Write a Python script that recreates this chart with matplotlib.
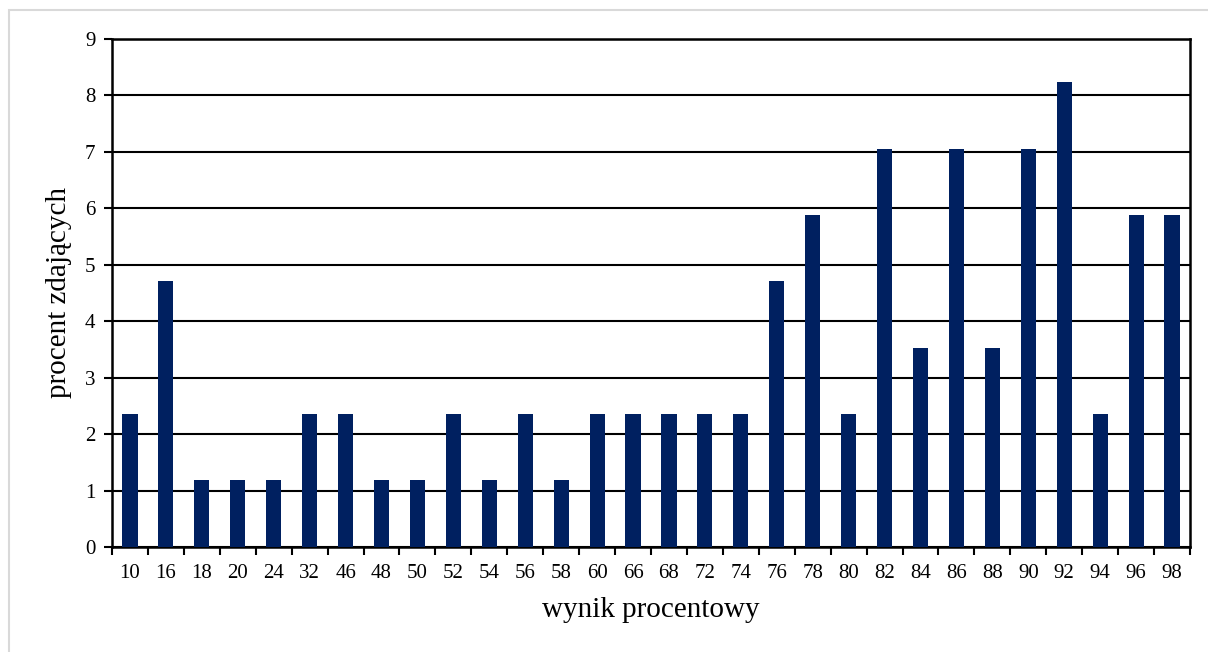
import numpy as np
import matplotlib.pyplot as plt
from matplotlib.patches import Rectangle

scores = ["10", "16", "18", "20", "24", "32", "46", "48", "50", "52",
          "54", "56", "58", "60", "66", "68", "72", "74", "76", "78",
          "80", "82", "84", "86", "88", "90", "92", "94", "96", "98"]
percent = [2.35, 4.71, 1.18, 1.18, 1.18, 2.35, 2.35, 1.18, 1.18, 2.35,
           1.18, 2.35, 1.18, 2.35, 2.35, 2.35, 2.35, 2.35, 4.71, 5.88,
           2.35, 7.06, 3.53, 7.06, 3.53, 7.06, 8.24, 2.35, 5.88, 5.88]

plt.rcParams["font.family"] = ["Liberation Serif", "DejaVu Serif"]

fig = plt.figure(figsize=(12.08, 6.52), dpi=100)
ax = fig.add_axes([112 / 1208, 1 - 547 / 652, 1078 / 1208, 508 / 652])

x = np.arange(len(scores))
ax.bar(x, percent, width=0.42, color="#002060", zorder=3)

ax.set_xlim(-0.5, len(scores) - 0.5)
ax.set_ylim(0, 9)
ax.set_yticks(range(10))
ax.yaxis.grid(True, color="black", linewidth=1.5, zorder=0)

ax.set_xticks(x)
ax.set_xticklabels(scores, fontsize=15)
ax.set_xticks(np.arange(len(scores) + 1) - 0.5, minor=True)
ax.tick_params(axis="x", which="major", length=0, pad=12)
ax.tick_params(axis="x", which="minor", length=6, width=1.5, direction="out")
ax.tick_params(axis="y", labelsize=15, length=6, width=1.5, pad=6)

for side in ["left", "bottom", "right", "top"]:
    ax.spines[side].set_linewidth(1.8)

ax.set_xlabel("wynik procentowy", fontsize=21, labelpad=10)
ax.set_ylabel("procent zdających", fontsize=21, labelpad=9)

# light grey frame around the chart
fig.patches.append(Rectangle((9 / 1208, -0.1), 1.2, 1 - 10 / 652 + 0.1,
                             transform=fig.transFigure, fill=False,
                             edgecolor="#d9d9d9", linewidth=1.5))

fig.savefig("out.png", dpi=100)
